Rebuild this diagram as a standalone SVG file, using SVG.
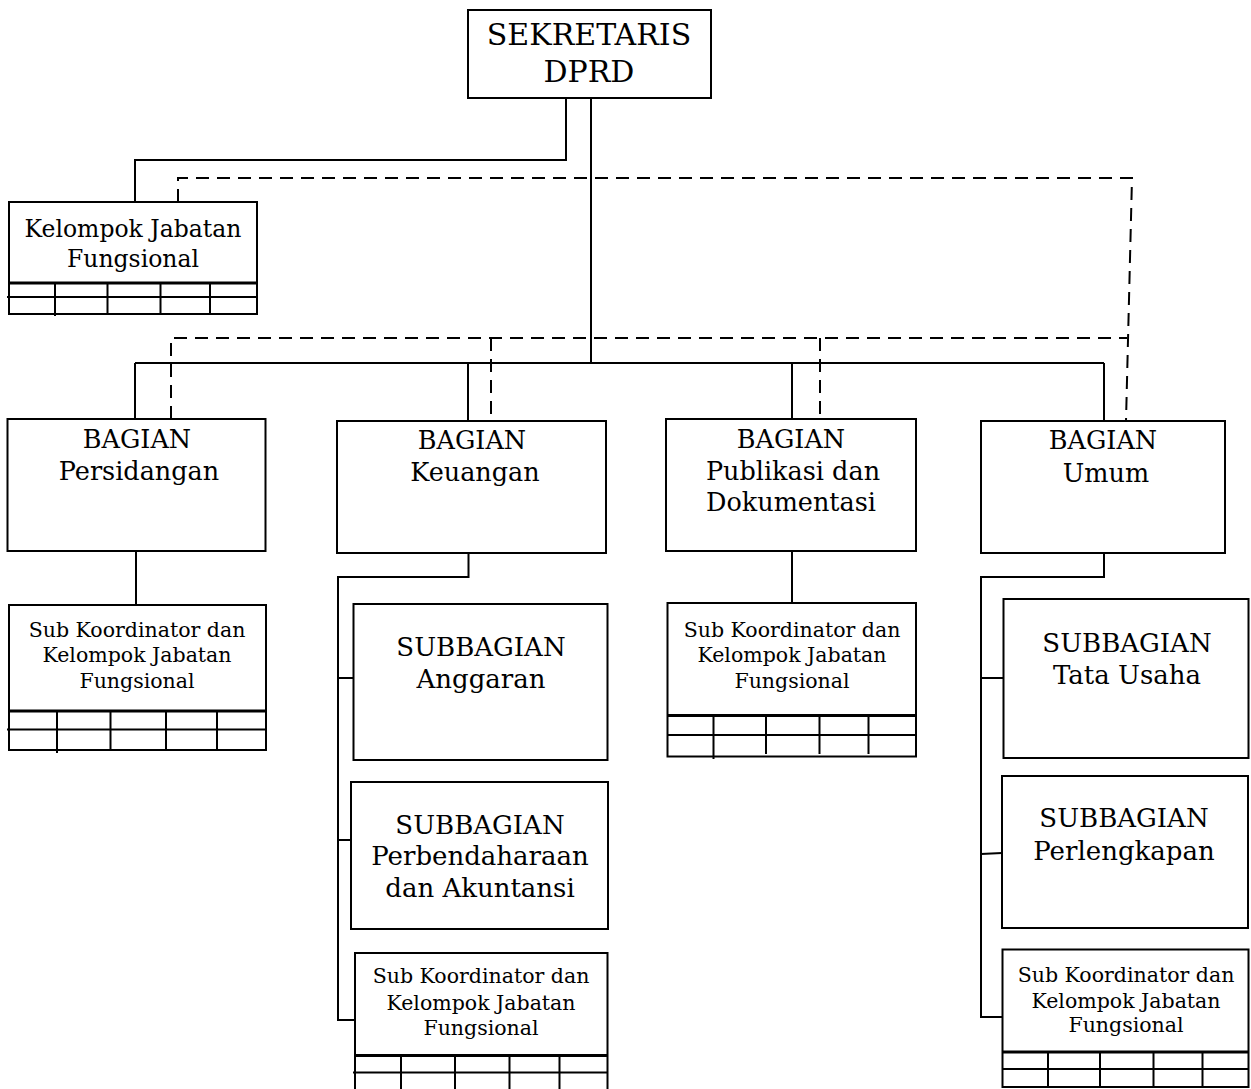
<svg xmlns="http://www.w3.org/2000/svg" width="1251" height="1089" viewBox="0 0 1251 1089">
<style>
  .box { fill: #fff; stroke: #000; stroke-width: 2; }
  .ln { fill: none; stroke: #000; stroke-width: 2; }
  .thick { fill: none; stroke: #000; stroke-width: 3; }
  .dash { fill: none; stroke: #000; stroke-width: 2; stroke-dasharray: 13 8; }
  text { font-family: "DejaVu Serif", "Liberation Serif", serif; fill: #000; text-anchor: middle; }
  .t1 { font-size: 30px; }
  .t2 { font-size: 25.5px; }
  .t3 { font-size: 26px; }
  .t4 { font-size: 20.5px; }
  .t5 { font-size: 23.5px; }
</style>
<rect width="1251" height="1089" fill="#fff"/>
<g id="connectors">
  <path class="ln" d="M566 98 V160 H135 V202"/>
  <path class="ln" d="M591 98 V363"/>
  <path class="ln" d="M135 363 H1104"/>
  <path class="ln" d="M135 363 V419 M468 363 V421 M792 363 V419 M1104 363 V421"/>
  <path class="ln" d="M136 551 V605"/>
  <path class="ln" d="M792 551 V603"/>
  <path class="ln" d="M468.5 553 V577 H338 V1020 H355 M338 678 H353.5 M338 840 H351"/>
  <path class="ln" d="M1104 553 V577 H981 V1017 H1002 M981 678 H1003.5 M981 854 L1002 853"/>
  <path class="dash" d="M178 202 V178 H1132 L1126 421"/>
  <path class="dash" d="M171 419 V338 H1127"/>
  <path class="dash" d="M491 338 V420 M820 338 V419"/>
</g>
<g id="sekretaris">
  <rect class="box" x="468" y="10" width="243" height="88"/>
  <text class="t1" x="589" y="45">SEKRETARIS</text>
  <text class="t1" x="589" y="82">DPRD</text>
</g>
<g id="kelompok-jabatan-fungsional">
  <rect class="box" x="9" y="202" width="248" height="112"/>
  <text class="t5" x="133" y="237">Kelompok Jabatan</text>
  <text class="t5" x="133" y="267">Fungsional</text>
  <path class="thick" d="M9 283 H257"/>
  <path class="ln" d="M7 297 H257 M55 283 V316 M107.5 283 V314 M160.5 283 V314 M210 283 V314"/>
</g>
<g id="bagian-persidangan">
  <rect class="box" x="7.5" y="419" width="258" height="132"/>
  <text class="t2" x="137" y="448">BAGIAN</text>
  <text class="t2" x="139" y="480">Persidangan</text>
</g>
<g id="sub-persidangan">
  <rect class="box" x="9" y="605" width="257" height="145"/>
  <text class="t4" x="137" y="637">Sub Koordinator dan</text>
  <text class="t4" x="137" y="662">Kelompok Jabatan</text>
  <text class="t4" x="137" y="688">Fungsional</text>
  <path class="thick" d="M9 711 H266"/>
  <path class="ln" d="M7 729.5 H266 M57 712 V753 M110.5 712 V749 M166 712 V749 M217 712 V749"/>
</g>
<g id="bagian-keuangan">
  <rect class="box" x="337" y="421" width="269" height="132"/>
  <text class="t2" x="472" y="449">BAGIAN</text>
  <text class="t2" x="475" y="481">Keuangan</text>
</g>
<g id="subbagian-anggaran">
  <rect class="box" x="353.5" y="604" width="254" height="156"/>
  <text class="t3" x="481" y="656">SUBBAGIAN</text>
  <text class="t3" x="481" y="688">Anggaran</text>
</g>
<g id="subbagian-perbendaharaan">
  <rect class="box" x="351" y="782" width="257" height="147"/>
  <text class="t3" x="480" y="834">SUBBAGIAN</text>
  <text class="t3" x="480" y="865">Perbendaharaan</text>
  <text class="t3" x="480" y="897">dan Akuntansi</text>
</g>
<g id="sub-keuangan">
  <rect class="box" x="355" y="953" width="252.5" height="145"/>
  <text class="t4" x="481" y="983">Sub Koordinator dan</text>
  <text class="t4" x="481" y="1009.5">Kelompok Jabatan</text>
  <text class="t4" x="481" y="1035">Fungsional</text>
  <path class="thick" d="M355 1055.5 H607.5"/>
  <path class="ln" d="M353 1072.5 H607.5 M401 1056 V1089 M455 1056 V1089 M509.5 1056 V1089 M559.5 1056 V1089"/>
</g>
<g id="bagian-publikasi">
  <rect class="box" x="666" y="419" width="250" height="132"/>
  <text class="t2" x="791" y="448">BAGIAN</text>
  <text class="t2" x="793" y="479.5">Publikasi dan</text>
  <text class="t2" x="791" y="511">Dokumentasi</text>
</g>
<g id="sub-publikasi">
  <rect class="box" x="667.5" y="603" width="248.5" height="153.5"/>
  <text class="t4" x="792" y="637">Sub Koordinator dan</text>
  <text class="t4" x="792" y="662">Kelompok Jabatan</text>
  <text class="t4" x="792" y="688">Fungsional</text>
  <path class="thick" d="M667.5 715.5 H916"/>
  <path class="ln" d="M667.5 735 H916 M713.5 716 V759 M766 716 V754 M819.5 716 V754 M868.5 716 V754"/>
</g>
<g id="bagian-umum">
  <rect class="box" x="981" y="421" width="244" height="132"/>
  <text class="t2" x="1103" y="449">BAGIAN</text>
  <text class="t2" x="1106" y="481.5">Umum</text>
</g>
<g id="subbagian-tata-usaha">
  <rect class="box" x="1003.5" y="599" width="245" height="159"/>
  <text class="t3" x="1127" y="652">SUBBAGIAN</text>
  <text class="t3" x="1127" y="683.5">Tata Usaha</text>
</g>
<g id="subbagian-perlengkapan">
  <rect class="box" x="1002" y="776" width="246" height="152"/>
  <text class="t3" x="1124" y="827">SUBBAGIAN</text>
  <text class="t3" x="1124" y="860">Perlengkapan</text>
</g>
<g id="sub-umum">
  <rect class="box" x="1002.5" y="949.5" width="246" height="137.5"/>
  <text class="t4" x="1126" y="982">Sub Koordinator dan</text>
  <text class="t4" x="1126" y="1007.5">Kelompok Jabatan</text>
  <text class="t4" x="1126" y="1031.5">Fungsional</text>
  <path class="thick" d="M1002.5 1052 H1248.5"/>
  <path class="ln" d="M1002.5 1069 H1248.5 M1048 1053 V1087 M1100 1053 V1087 M1153.5 1053 V1087 M1202.5 1053 V1087"/>
</g>
</svg>
